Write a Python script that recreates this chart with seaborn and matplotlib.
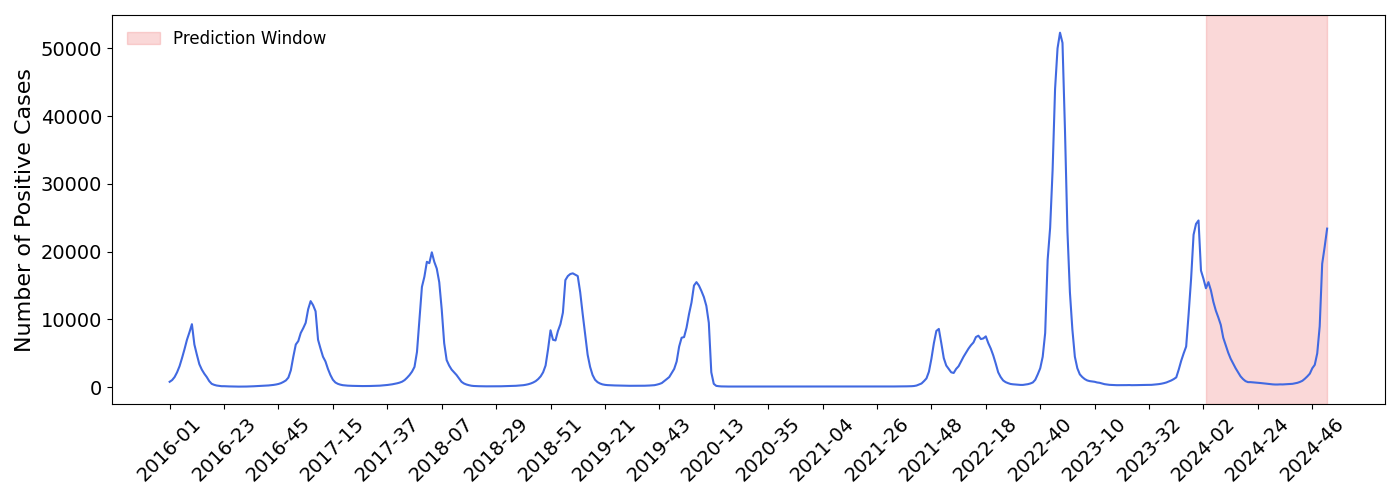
import numpy as np
import pandas as pd
import matplotlib
matplotlib.use("Agg")
import matplotlib.pyplot as plt
import seaborn as sns

# weekly positive cases, one list per ISO year (2020 has 53 weeks)
years = [2016, 2017, 2018, 2019, 2020, 2021, 2022, 2023, 2024]

cases_2016 = [800, 1050, 1500, 2200, 3100, 4300, 5600, 7000, 8100, 9300,
              6300, 4800, 3400, 2600, 2000, 1500, 900, 500, 350, 250,
              200, 150, 150, 130, 120, 110, 100, 100, 90, 90,
              100, 100, 110, 120, 140, 160, 180, 200, 220, 240,
              260, 300, 340, 400, 480, 600, 780, 1000, 1420, 2500,
              4500, 6300]
cases_2017 = [6800, 8000, 8700, 9500, 11500, 12700, 12100, 11200, 7000, 5700,
              4500, 3800, 2700, 1800, 1100, 700, 500, 380, 300, 260,
              230, 210, 200, 190, 180, 180, 170, 170, 170, 180,
              190, 200, 210, 230, 260, 300, 330, 380, 430, 500,
              580, 680, 820, 1050, 1400, 1800, 2300, 3000, 5200, 10000,
              14800, 16300]
cases_2018 = [18500, 18300, 19900, 18500, 17500, 15500, 11500, 6500, 4000, 3200,
              2600, 2200, 1800, 1300, 800, 550, 400, 300, 220, 180,
              160, 150, 140, 130, 130, 130, 130, 130, 140, 140,
              140, 150, 150, 160, 170, 190, 210, 240, 270, 300,
              360, 440, 550, 700, 900, 1200, 1600, 2200, 3200, 5600,
              8400, 7000]
cases_2019 = [6900, 8300, 9300, 11000, 15800, 16400, 16700, 16800, 16600, 16400,
              14000, 10800, 7800, 4800, 3000, 1800, 1100, 750, 550, 420,
              350, 310, 290, 270, 260, 250, 240, 230, 220, 220,
              210, 210, 200, 200, 200, 210, 220, 230, 250, 270,
              300, 380, 480, 620, 900, 1200, 1500, 2100, 2700, 3800,
              6000, 7300]
cases_2020 = [7400, 8800, 10800, 12500, 15000, 15500, 15000, 14200, 13300, 12000,
              9500, 2200, 500, 200, 150, 120, 110, 100, 100, 100,
              100, 100, 90, 90, 90, 90, 90, 90, 100, 100,
              100, 100, 100, 100, 110, 110, 110, 110, 110, 110,
              110, 110, 110, 100, 100, 100, 100, 100, 100, 100,
              100, 100, 100]
cases_2021 = [100, 100, 100, 100, 100, 100, 100, 100, 100, 100,
              100, 100, 100, 100, 100, 100, 100, 100, 100, 100,
              100, 100, 100, 100, 100, 100, 100, 100, 100, 100,
              110, 110, 110, 120, 120, 120, 130, 130, 140, 150,
              180, 250, 400, 550, 900, 1300, 2300, 4200, 6500, 8300,
              8600, 6500]
cases_2022 = [4300, 3200, 2700, 2200, 2100, 2700, 3100, 3800, 4500, 5100,
              5700, 6200, 6600, 7400, 7600, 7100, 7200, 7500, 6500, 5700,
              4700, 3500, 2200, 1500, 1000, 750, 600, 480, 430, 400,
              360, 340, 340, 400, 450, 550, 700, 1100, 1900, 2800,
              4500, 8000, 18800, 23500, 32000, 44000, 50000, 52300, 50800, 38000,
              23000, 14000]
cases_2023 = [8500, 4500, 2800, 1900, 1500, 1200, 1000, 900, 850, 800,
              700, 650, 550, 450, 400, 350, 330, 320, 300, 300,
              300, 300, 310, 320, 300, 300, 310, 320, 330, 330,
              340, 340, 350, 380, 420, 460, 520, 600, 700, 850,
              1000, 1200, 1450, 2600, 3900, 5000, 6000, 10800, 16000, 22500,
              24100, 24600]
cases_2024 = [17200, 16000, 14600, 15500, 14300, 12600, 11300, 10300, 9200, 7300,
              6200, 5100, 4200, 3500, 2800, 2200, 1600, 1200, 900, 750,
              750, 720, 680, 650, 620, 580, 530, 500, 460, 420,
              400, 400, 420, 410, 430, 450, 480, 500, 580, 650,
              780, 950, 1250, 1600, 2000, 2800, 3300, 5000, 9000, 18200,
              20700, 23400]

yearly = [cases_2016, cases_2017, cases_2018, cases_2019, cases_2020,
          cases_2021, cases_2022, cases_2023, cases_2024]

weeks = []
values = []
for y, vals in zip(years, yearly):
    for w, v in enumerate(vals, start=1):
        weeks.append(f"{y}-{w:02d}")
        values.append(v)

df = pd.DataFrame({"week": weeks, "cases": values})
df["idx"] = np.arange(len(df))

# prediction window covers 2024-03 .. last week
pred_start = weeks.index("2024-03")
pred_end = len(weeks) - 1

fig, ax = plt.subplots(figsize=(14, 5))
sns.lineplot(data=df, x="idx", y="cases", color="royalblue", linewidth=1.5, ax=ax)
ax.axvspan(pred_start, pred_end, color="lightcoral", alpha=0.3, label="Prediction Window")

tick_pos = df["idx"][::22]
ax.set_xticks(tick_pos)
ax.set_xticklabels(df["week"][::22], rotation=45)
ax.tick_params(axis="both", labelsize=14)
ax.set_xlabel("")
ax.set_ylabel("Number of Positive Cases", fontsize=16)
ax.legend(loc="upper left", frameon=False, fontsize=12)

plt.tight_layout()
plt.savefig("out.png", dpi=100)
plt.close()
